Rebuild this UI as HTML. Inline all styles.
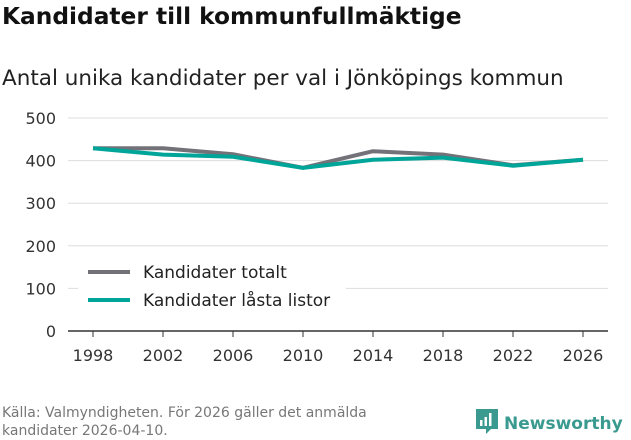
<!DOCTYPE html>
<html><head><meta charset="utf-8"><style>
body{margin:0;width:631px;height:439px;background:#fff;font-family:"DejaVu Sans","Liberation Sans",sans-serif;overflow:hidden;position:relative}
.t{position:absolute;white-space:nowrap}
</style></head><body>
<div class="t" style="left:2px;top:3px;font-size:23.3px;font-weight:bold;color:#111">Kandidater till kommunfullmäktige</div>
<div class="t" style="left:2px;top:66px;font-size:21.5px;color:#222">Antal unika kandidater per val i Jönköpings kommun</div>
<svg id="c" width="631" height="439" style="position:absolute;left:0;top:0"></svg>
<div class="t" style="left:2px;top:404px;font-size:14px;line-height:18px;color:#777">Källa: Valmyndigheten. För 2026 gäller det anmälda<br>kandidater 2026-04-10.</div>
<div class="t" style="left:476px;top:409px;font-size:17px;color:#3a9a8f;font-weight:bold">
<svg width="22" height="26" style="vertical-align:-6px;margin-right:6px"><path d="M0 0h22v20h-7l-5 5v-5H0z" fill="#3a9a8f"/><rect x="4" y="11" width="2.5" height="6" fill="#fff"/><rect x="8.5" y="8" width="2.5" height="9" fill="#fff"/><rect x="13" y="4" width="2.5" height="13" fill="#fff"/></svg>Newsworthy</div>
<script>
const years=[1998,2002,2006,2010,2014,2018,2022,2026];
const totalt=[429,429,415,383,422,414,389,402];
const lasta=[429,414,409,383,402,407,388,402];
const yTicks=[0,100,200,300,400,500];
const NS="http://www.w3.org/2000/svg";
const svg=document.getElementById('c');
const x=v=>93+(v-1998)*(490/28);
const y=v=>331-v*0.426;
function mk(t,a){const e=document.createElementNS(NS,t);for(const k in a)e.setAttribute(k,a[k]);svg.appendChild(e);return e;}
yTicks.forEach(v=>{
 const l=mk('line',{x1:68,x2:608,y1:y(v),y2:y(v),stroke:v===0?'#333':'#ddd','stroke-width':v===0?1.5:1});
 
 
 const t=mk('text',{x:56,y:y(v)+6,'text-anchor':'end','font-size':16,fill:'#333','font-family':'DejaVu Sans, sans-serif'});
 t.textContent=v;
 
 
});
years.forEach(v=>{
 const tk=mk('line',{x1:x(v),x2:x(v),y1:331,y2:337,stroke:'#333'});
 
 
 const t=mk('text',{x:x(v),y:361,'text-anchor':'middle','font-size':16,fill:'#333','font-family':'DejaVu Sans, sans-serif'});
 t.textContent=v;
 
 
});
function line(d,c,n){const p=mk('polyline',{points:d.map((v,i)=>x(years[i])+','+y(v)).join(' '),fill:'none',stroke:c,'stroke-width':4,'stroke-linejoin':'round'});
 
 }
line(totalt,'#737279','line-kandidater-totalt');
line(lasta,'#00a599','line-kandidater-lasta-listor');
const bg=mk('rect',{x:78,y:256,width:268,height:62,fill:'#fff'});


[['Kandidater totalt','#737279',272],['Kandidater låsta listor','#00a599',300]].forEach(([s,c,yy])=>{
 const l=mk('line',{x1:88,x2:130,y1:yy,y2:yy,stroke:c,'stroke-width':4});
 
 
 const t=mk('text',{x:143,y:yy+6,'font-size':17,fill:'#222','font-family':'DejaVu Sans, sans-serif'});
 t.textContent=s;
 
 
});
</script>
</body></html>
